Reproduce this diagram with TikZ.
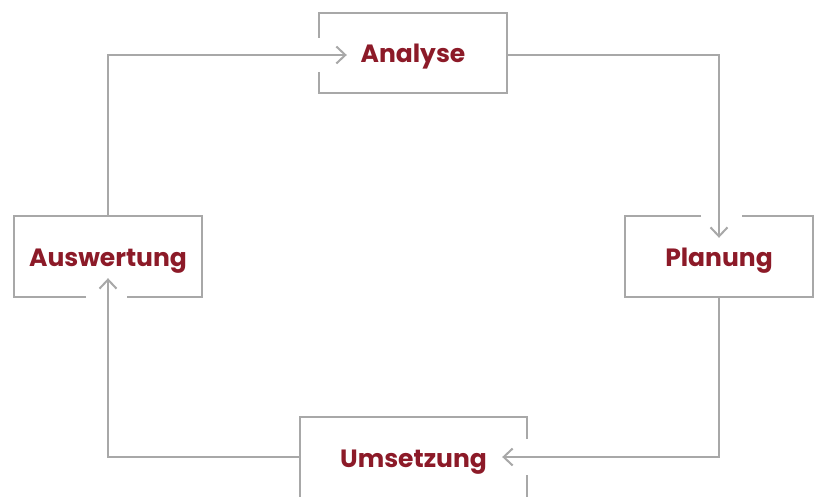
\documentclass[tikz,border=0pt]{standalone}
\usepackage{fontspec}
\newfontfamily\labfont{Poppins}
\usetikzlibrary{arrows.meta,calc}
\definecolor{lbl}{RGB}{140,26,40}
\definecolor{ln}{RGB}{168,168,168}
\newcommand{\lbltext}[1]{\raisebox{-10pt}[0pt][0pt]{#1}}
\begin{document}
\begin{tikzpicture}[x=1pt,y=1pt,
  box/.style={minimum width=188pt,minimum height=80pt,inner sep=0pt,
    text=lbl,font=\labfont\bfseries\fontsize{25}{30}\selectfont},
  frame/.style={draw=ln,line width=2pt},
  conn/.style={draw=ln,line width=2pt,-{Straight Barb[length=9pt,width=17pt,line width=2pt]}}]
\useasboundingbox (0,0) rectangle (817,496);
\node[box] (ana) at (413,443) {\lbltext{Analyse}};
\node[box,minimum height=81pt] (pla) at (719,239.5) {\lbltext{Planung}};
\node[box,minimum width=227pt] (ums) at (413.5,39) {\lbltext{Umsetzung}};
\node[box,minimum height=81pt] (aus) at (108,239.5) {\lbltext{Auswertung}};
% frames with gaps
\draw[frame] ([yshift=-19pt]ana.west) -- (ana.south west) -- (ana.south east) -- (ana.north east) -- (ana.north west) -- ([yshift=15pt]ana.west);
\draw[frame] ([xshift=-18pt]pla.north) -- (pla.north west) -- (pla.south west) -- (pla.south east) -- (pla.north east) -- ([xshift=23pt]pla.north);
\draw[frame] ([yshift=18pt]ums.east) -- (ums.north east) -- (ums.north west) -- ([yshift=-8pt]ums.south west) -- ([yshift=-8pt]ums.south east) -- ([yshift=-18pt]ums.east);
\draw[frame] ([xshift=-22pt]aus.south) -- (aus.south west) -- (aus.north west) -- (aus.north east) -- (aus.south east) -- ([xshift=19pt]aus.south);
% connector end points
\coordinate (anaIn) at ([xshift=28pt,yshift=-2pt]ana.west);
\coordinate (plaIn) at ([yshift=-22pt]pla.north);
\coordinate (umsIn) at ([xshift=-25pt]ums.east);
\coordinate (ausIn) at ([yshift=19pt]aus.south);
% connectors
\draw[conn] (ana.east |- anaIn) -| (plaIn);
\draw[conn] (pla.south) |- (umsIn);
\draw[conn] (ums.west) -| (ausIn);
\draw[conn] (aus.north) |- (anaIn);
\end{tikzpicture}
\end{document}
